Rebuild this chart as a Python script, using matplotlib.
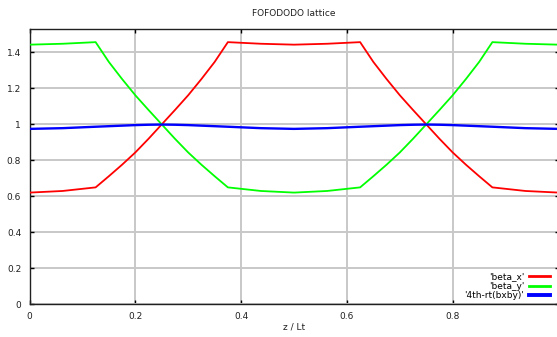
from matplotlib import pyplot as plt
import numpy as np

plt.rcParams['font.family'] = ['DejaVu Sans']

# lattice position, fraction of total length
z = [0.0, 0.0625, 0.125, 0.15, 0.175, 0.2, 0.225, 0.25, 0.275, 0.3, 0.325, 0.35,
     0.375, 0.4375, 0.5, 0.5625, 0.625, 0.65, 0.675, 0.7, 0.725, 0.75, 0.775,
     0.8, 0.825, 0.85, 0.875, 0.9375, 1.0]

beta_x = [0.619, 0.628, 0.648, 0.710, 0.774, 0.842, 0.918, 0.998, 1.078, 1.160,
          1.250, 1.345, 1.455, 1.446, 1.441, 1.446, 1.455, 1.345, 1.250, 1.160,
          1.078, 0.998, 0.918, 0.842, 0.774, 0.710, 0.648, 0.628, 0.619]

beta_y = [1.441, 1.446, 1.455, 1.345, 1.250, 1.160, 1.078, 0.998, 0.918, 0.842,
          0.774, 0.710, 0.648, 0.628, 0.619, 0.628, 0.648, 0.710, 0.774, 0.842,
          0.918, 0.998, 1.078, 1.160, 1.250, 1.345, 1.455, 1.446, 1.441]

beta_rt = [0.973, 0.977, 0.985, 0.988, 0.991, 0.994, 0.996, 0.997, 0.996, 0.994,
           0.991, 0.988, 0.985, 0.977, 0.973, 0.977, 0.985, 0.988, 0.991, 0.994,
           0.996, 0.997, 0.996, 0.994, 0.991, 0.988, 0.985, 0.977, 0.973]

xticks = [0, 0.2, 0.4, 0.6, 0.8]
yticks = [0, 0.2, 0.4, 0.6, 0.8, 1.0, 1.2, 1.4]
ytick_labels = ['0', '0.2', '0.4', '0.6', '0.8', '1', '1.2', '1.4']

W, H = 557, 337
fig = plt.figure(figsize=(W / 100, H / 100), dpi=100)
ax = fig.add_axes([29.5 / W, (H - 304) / H, 529 / W, 275 / H])

ax.plot(z, beta_x, color='#ff0000', lw=1.3, label="'beta_x'", zorder=3)
ax.plot(z, beta_y, color='#00ff00', lw=1.3, label="'beta_y'", zorder=3)
ax.plot(z, beta_rt, color='#0000ff', lw=1.7, label="'4th-rt(bxby)'", zorder=3)

ax.set_xlim(0, 1)
ax.set_ylim(0, 1.528)
ax.set_xticks(xticks)
ax.set_xticklabels(['0', '0.2', '0.4', '0.6', '0.8'])
ax.set_yticks(yticks)
ax.set_yticklabels(ytick_labels)
ax.grid(True, color='#c8c8c8', lw=1.4, zorder=1)
ax.set_axisbelow(True)
ax.tick_params(direction='in', length=3, width=1, top=True, right=True,
               labelsize=6.5, labelcolor='#202020', pad=6)
for s in ax.spines.values():
    s.set_linewidth(1.0)
    s.set_color('#202020')

fig.text(294 / W, 1 - 14 / H, 'FOFODODO lattice', ha='center', va='center',
         fontsize=6.5, color='#202020')
fig.text(294 / W, 1 - 327 / H, 'z / Lt', ha='center', va='center',
         fontsize=6.5, color='#202020')

leg = ax.legend(loc='lower right', bbox_to_anchor=(0.99, 0.0), markerfirst=False,
                frameon=False, fontsize=6.5, handlelength=2.3, handletextpad=0.5,
                labelspacing=0.05, borderaxespad=0.0, borderpad=0.4)
for line in leg.get_lines():
    line.set_linewidth(2.0)
leg.get_lines()[2].set_linewidth(2.8)

plt.savefig('out.png', dpi=100)
